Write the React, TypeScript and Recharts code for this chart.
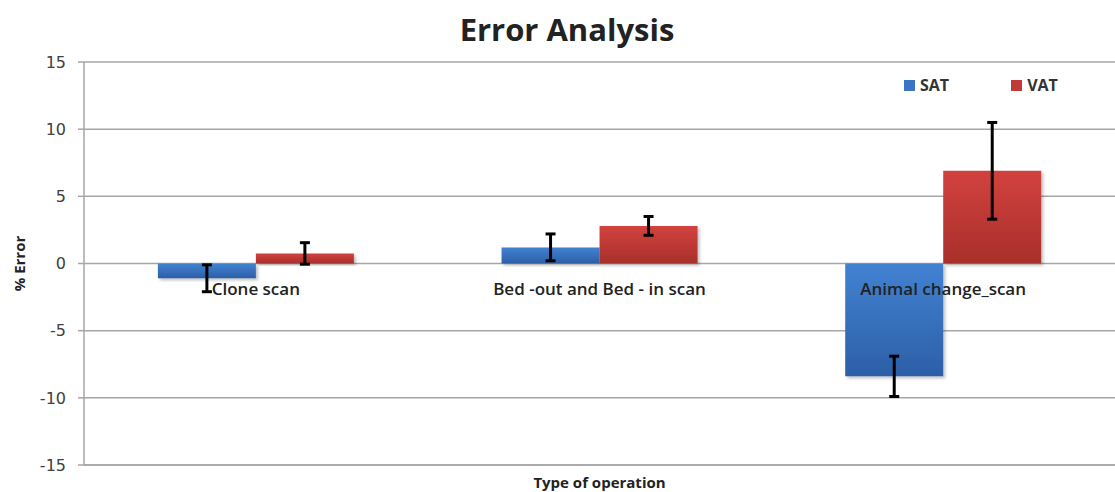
import { BarChart, Bar, XAxis, YAxis, CartesianGrid, ErrorBar, ReferenceDot } from 'recharts';

const categories = ['Clone scan', 'Bed -out and Bed - in scan', 'Animal change_scan'];
const satValues = [-1.1, 1.2, -8.4];
const satErrors = [1.0, 1.0, 1.5];
const vatValues = [0.75, 2.8, 6.9];
const vatErrors = [0.8, 0.7, 3.6];
const yTicks = [-15, -10, -5, 0, 5, 10, 15];

const data = categories.map((name, i) => ({
  name,
  SAT: satValues[i],
  satErr: satErrors[i],
  VAT: vatValues[i],
  vatErr: vatErrors[i],
}));

const labelFont = '"Open Sans", Lato, sans-serif';

function LegendBox() {
  const items = [
    { name: 'SAT', color: '#3a74c2' },
    { name: 'VAT', color: '#c23a36' },
  ];
  return (
    <div
      style={{
        position: 'absolute',
        top: 74,
        left: 904,
        display: 'flex',
        gap: 62,
        fontFamily: labelFont,
        fontWeight: 700,
        fontSize: 16,
        color: '#333',
      }}
    >
      {items.map((it) => (
        <div key={it.name} style={{ display: 'flex', alignItems: 'center', gap: 5 }}>
          <span style={{ display: 'inline-block', width: 11, height: 11, background: it.color }} />
          <span>{it.name}</span>
        </div>
      ))}
    </div>
  );
}

export default function App() {
  return (
    <div style={{ position: 'absolute', left: 0, top: 0, width: 1115, height: 492, background: '#fff' }}>
      <BarChart
        width={1115}
        height={492}
        data={data}
        margin={{ top: 62, right: 0, left: 0, bottom: 0 }}
        barCategoryGap="21.5%"
        barGap={0}
      >
        <defs>
          <linearGradient id="satGrad" x1="0" y1="0" x2="0" y2="1">
            <stop offset="0%" stopColor="#4282d2" />
            <stop offset="100%" stopColor="#2c5fa6" />
          </linearGradient>
          <linearGradient id="vatGrad" x1="0" y1="0" x2="0" y2="1">
            <stop offset="0%" stopColor="#d2423e" />
            <stop offset="100%" stopColor="#a82f2b" />
          </linearGradient>
          <filter id="barShadow" x="-10%" y="-10%" width="130%" height="130%">
            <feDropShadow dx="2" dy="2" stdDeviation="1.5" floodColor="#000" floodOpacity="0.25" />
          </filter>
        </defs>
        <CartesianGrid vertical={false} stroke="#a6a6a6" strokeWidth={1.5} />
        <XAxis
          dataKey="name"
          tick={false}
          tickLine={false}
          axisLine={{ stroke: '#a6a6a6', strokeWidth: 1.5 }}
          height={27}
          label={{
            value: 'Type of operation',
            position: 'insideBottom',
            offset: 0,
            dy: -4,
            style: { fontFamily: labelFont, fontWeight: 700, fontSize: 15, fill: '#222' },
          }}
        />
        <YAxis
          width={84}
          domain={[-15, 15]}
          ticks={yTicks}
          interval={0}
          tick={{ fontFamily: '"DejaVu Sans", sans-serif', fontSize: 16, fill: '#404040', dx: -10 }}
          tickLine={{ stroke: '#a6a6a6', strokeWidth: 1.5 }}
          tickSize={6}
          axisLine={{ stroke: '#a6a6a6', strokeWidth: 1.5 }}
          label={{
            value: '% Error',
            angle: -90,
            position: 'insideLeft',
            offset: 20,
            style: { fontFamily: labelFont, fontWeight: 700, fontSize: 15, fill: '#222', textAnchor: 'middle' },
          }}
        />
        <Bar dataKey="SAT" fill="url(#satGrad)" filter="url(#barShadow)" isAnimationActive={false}>
          <ErrorBar dataKey="satErr" width={5} strokeWidth={3} stroke="#000" />
        </Bar>
        <Bar dataKey="VAT" fill="url(#vatGrad)" filter="url(#barShadow)" isAnimationActive={false}>
          <ErrorBar dataKey="vatErr" width={5} strokeWidth={3} stroke="#000" />
        </Bar>
        {categories.map((c) => (
          <ReferenceDot
            key={c}
            x={c}
            y={0}
            r={0}
            stroke="none"
            fill="none"
            label={{
              value: c,
              position: 'bottom',
              offset: 19,
              style: { fontFamily: labelFont, fontWeight: 600, fontSize: 17, fill: '#222' },
            }}
          />
        ))}
      </BarChart>
      <div
        style={{
          position: 'absolute',
          top: 8,
          left: 0,
          width: 1134,
          textAlign: 'center',
          fontFamily: labelFont,
          fontWeight: 700,
          fontSize: 31,
          color: '#222',
        }}
      >
        Error Analysis
      </div>
      <LegendBox />
    </div>
  );
}
